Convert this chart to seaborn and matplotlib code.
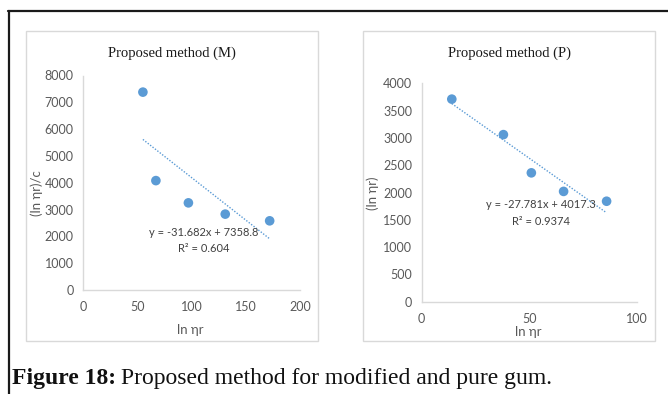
import matplotlib
matplotlib.use("Agg")
import matplotlib.pyplot as plt
import seaborn as sns
import numpy as np
import pandas as pd
from matplotlib.patches import Rectangle
from matplotlib.lines import Line2D

# Modified gum (M)
m_x = [55, 67, 97, 131, 172]
m_y = [7380, 4080, 3250, 2830, 2580]
m_slope, m_intercept, m_r2 = -31.682, 7358.8, "0.604"

# Pure gum (P)
p_x = [14, 38, 51, 66, 86]
p_y = [3710, 3060, 2360, 2020, 1840]
p_slope, p_intercept, p_r2 = -27.781, 4017.3, "0.9374"

m_xticks = [0, 50, 100, 150, 200]
m_yticks = [0, 1000, 2000, 3000, 4000, 5000, 6000, 7000, 8000]
p_xticks = [0, 50, 100]
p_yticks = [0, 500, 1000, 1500, 2000, 2500, 3000, 3500, 4000]

sns.set_theme(style="white")
plt.rcParams["font.family"] = ["Lato", "DejaVu Sans"]

W, H = 668, 394
fig = plt.figure(figsize=(W / 100, H / 100), dpi=100)
fig.patch.set_facecolor("white")

BLUE = "#5B9BD5"
GRID = "#D9D9D9"
TXT = "#595959"


def px(x0, y0, x1, y1):
    """Pixel box (top-left origin) -> figure fraction rect."""
    return [x0 / W, 1 - y1 / H, (x1 - x0) / W, (y1 - y0) / H]


# outer frame (top and left rules)
fig.add_artist(Line2D([8 / W, 1], [1 - 10.5 / H] * 2, color="#1a1a1a", lw=1.6))
fig.add_artist(Line2D([8.5 / W] * 2, [0, 1 - 10.5 / H], color="#1a1a1a", lw=1.6))

# chart boxes
for bx0, bx1 in [(26, 318), (363, 655)]:
    fig.add_artist(Rectangle((bx0 / W, 1 - 341 / H), (bx1 - bx0) / W, (341 - 31) / H,
                             transform=fig.transFigure, fill=False, ec=GRID, lw=1.0))


def panel(rect, xs, ys, slope, intercept, r2, xticks, yticks, title, ylabel,
          title_x, ylabel_x, xlabel_xy, eq_xy):
    ax = fig.add_axes(rect)
    df = pd.DataFrame({"x": xs, "y": ys})
    # linear trendline across the data range
    tx = np.array([min(xs), max(xs)], dtype=float)
    trend = pd.DataFrame({"x": tx, "y": slope * tx + intercept})
    sns.lineplot(data=trend, x="x", y="y", ax=ax, color=BLUE, lw=1.0,
                 linestyle=(0, (1, 1.2)), zorder=2)
    sns.scatterplot(data=df, x="x", y="y", ax=ax, color=BLUE, s=48,
                    edgecolor="none", zorder=3)
    ax.set_xlim(xticks[0], xticks[-1])
    ax.set_ylim(yticks[0], yticks[-1])
    ax.set_xticks(xticks)
    ax.set_yticks(yticks)
    ax.set_xlabel("")
    ax.set_ylabel("")
    for s in ["top", "right"]:
        ax.spines[s].set_visible(False)
    for s in ["left", "bottom"]:
        ax.spines[s].set_color(GRID)
        ax.spines[s].set_linewidth(1.0)
    ax.tick_params(axis="both", length=4, width=1.0, color=GRID, labelcolor=TXT,
                   labelsize=9, direction="out")
    ax.tick_params(axis="y", pad=3)
    ax.tick_params(axis="x", pad=4)
    ax.set_facecolor("none")

    fig.text(title_x / W, 1 - 53 / H, title, ha="center", va="center",
             family="Liberation Serif", fontsize=10.5, color="#1a1a1a")
    fig.text(ylabel_x / W, 1 - 193 / H, ylabel, ha="center", va="center",
             rotation=90, fontsize=9.5, color=TXT)
    fig.text(xlabel_xy[0] / W, 1 - xlabel_xy[1] / H, "ln ηr", ha="center",
             va="center", fontsize=9.5, color=TXT)
    sign = "-" if slope < 0 else "+"
    eq = f"y = {sign}{abs(slope):.3f}x + {intercept}"
    fig.text(eq_xy[0] / W, 1 - eq_xy[1] / H, eq, ha="center", va="center",
             fontsize=8, color="#404040")
    fig.text(eq_xy[0] / W, 1 - (eq_xy[1] + 16.5) / H, f"R² = {r2}", ha="center",
             va="center", fontsize=8, color="#404040")
    return ax


panel(px(83.3, 75.5, 300, 290), m_x, m_y, m_slope, m_intercept, m_r2,
      m_xticks, m_yticks, "Proposed method (M)", "(ln ηr)/c",
      172, 37, (190, 330), (204, 232))
panel(px(421.7, 83.3, 636.7, 301.7), p_x, p_y, p_slope, p_intercept, p_r2,
      p_xticks, p_yticks, "Proposed method (P)", "(ln ηr)",
      509, 373, (528, 332), (541, 205))

# caption: bold lead-in followed by regular text
cap_y = 1 - 384 / H
lead = fig.text(12 / W, cap_y, "Figure 18:", ha="left", va="baseline",
                family="Liberation Serif", fontweight="bold", fontsize=17,
                color="#111111")
fig.canvas.draw()
bb = lead.get_window_extent(renderer=fig.canvas.get_renderer())
fig.text((bb.x1 + 5) / W, cap_y, "Proposed method for modified and pure gum.",
         ha="left", va="baseline", family="Liberation Serif", fontsize=17,
         color="#111111")

fig.savefig("out.png", dpi=100, facecolor="white")
